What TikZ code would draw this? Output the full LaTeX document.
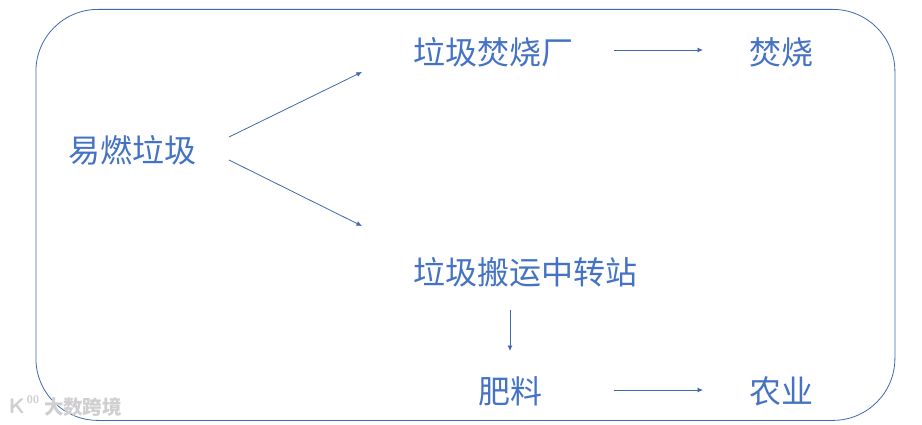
\documentclass[tikz,border=0pt]{standalone}
\usepackage{fontspec}
\usetikzlibrary{arrows.meta}
\newfontfamily\cjk{Noto Sans CJK SC}
\definecolor{lineblue}{HTML}{4472C4}
\definecolor{framedark}{HTML}{3F68B0}
\definecolor{markgrey}{HTML}{CFCFCF}
\tikzset{
 lbl/.style={text=lineblue,font=\cjk\fontsize{32pt}{34pt}\selectfont,inner sep=0pt,anchor=center},
 conn/.style={draw=framedark,line width=0.8pt,-{Latex[length=5.5pt,width=5pt]}},
 wmark/.style={text=markgrey,font=\cjk\bfseries\fontsize{19.5pt}{20pt}\selectfont,inner sep=0pt,anchor=center}
}
\begin{document}
\begin{tikzpicture}[x=1pt,y=-1pt]
\useasboundingbox (0,0) rectangle (922,425);
\fill[white] (0,0) rectangle (922,425);
\node[draw=framedark,line width=0.8pt,rounded corners=62pt,minimum width=859pt,minimum height=411pt,inner sep=0pt,anchor=north west] (frame) at (35.5,9) {};
\node[lbl] (src) at (132,150) {易燃垃圾};
\node[lbl] (plant) at (493,52) {垃圾焚烧厂};
\node[lbl] (burn) at (781,52) {焚烧};
\node[lbl] (station) at (525,272) {垃圾搬运中转站};
\node[lbl] (fert) at (510,391) {肥料};
\node[lbl] (agri) at (781,391) {农业};
\node[wmark] (wm) at (83,407) {大数跨境};
\node[text=markgrey,font=\sffamily\bfseries\fontsize{21pt}{22pt}\selectfont,inner sep=0pt] (wk) at (17,406) {K};
\node[text=markgrey,font=\sffamily\bfseries\fontsize{11pt}{12pt}\selectfont,inner sep=0pt] (woo) at (33,400) {00};
\coordinate (a1) at (229,137); \coordinate (a2) at (362,72);
\coordinate (b1) at (229,160); \coordinate (b2) at (362,226);
\coordinate (c1) at (614,50); \coordinate (c2) at (703,50);
\coordinate (d1) at (510,310); \coordinate (d2) at (510,351);
\coordinate (e1) at (614,390); \coordinate (e2) at (703,390);
\draw[conn] (a1) -- (a2);
\draw[conn] (b1) -- (b2);
\draw[conn] (c1) -- (c2);
\draw[conn] (d1) -- (d2);
\draw[conn] (e1) -- (e2);
\end{tikzpicture}
\end{document}
